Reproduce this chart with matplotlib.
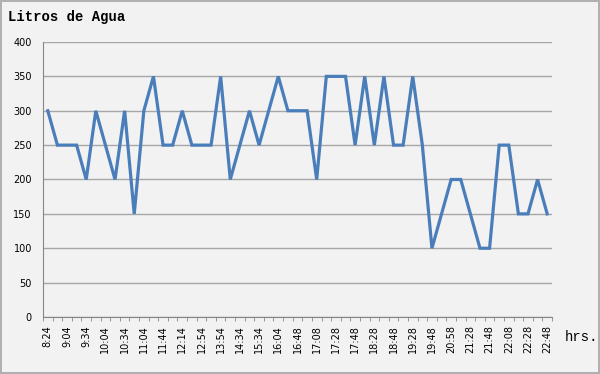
import matplotlib.pyplot as plt
import numpy as np

# litros de agua por registro (53 puntos, etiqueta cada 2)
litros = [300, 250, 250, 250, 200, 300, 250, 200, 300, 150,
          300, 350, 250, 250, 300, 250, 250, 250, 350, 200,
          250, 300, 250, 300, 350, 300, 300, 300, 200, 350,
          350, 350, 250, 350, 250, 350, 250, 250, 350, 250,
          100, 150, 200, 200, 150, 100, 100, 250, 250, 150,
          150, 200, 150]
etiquetas = ['8:24', '9:04', '9:34', '10:04', '10:34', '11:04', '11:44',
             '12:14', '12:54', '13:54', '14:34', '15:34', '16:04', '16:48',
             '17:08', '17:28', '17:48', '18:28', '18:48', '19:28', '19:48',
             '20:58', '21:28', '21:48', '22:08', '22:28', '22:48']
y_ticks = [0, 50, 100, 150, 200, 250, 300, 350, 400]

bg = '#f2f2f2'
fig = plt.figure(figsize=(6, 3.74), dpi=100, facecolor=bg,
                 edgecolor='#b0b0b0', linewidth=1.5)
ax = fig.add_axes([43/600, 1-317/374, 509/600, 275/374])
ax.set_facecolor(bg)

x = np.arange(len(litros))
ax.plot(x, litros, color='#4a7ebb', lw=2.3, solid_joinstyle='miter')

ax.set_xlim(-0.5, len(litros) - 0.5)
ax.set_ylim(0, 400)
ax.set_yticks(y_ticks)
ax.yaxis.grid(True, color='#a6a6a6', lw=1)
ax.set_axisbelow(True)
ax.tick_params(axis='y', length=0, labelsize=7, pad=8)

ax.set_xticks(x[::2])
ax.set_xticklabels(etiquetas, rotation=90, fontsize=7)
ax.set_xticks(np.arange(len(litros) + 1) - 0.5, minor=True)
ax.tick_params(axis='x', which='major', length=0, pad=6)
ax.tick_params(axis='x', which='minor', length=3, color='#868686')

for s in ['top', 'right']:
    ax.spines[s].set_visible(False)
for s in ['left', 'bottom']:
    ax.spines[s].set_color('#868686')

fig.text(8/600, 1-17/374, 'Litros de Agua', family='Liberation Mono',
         weight='bold', fontsize=10, va='center')
fig.text(565/600, 1-337/374, 'hrs.', family='Liberation Mono',
         fontsize=10, va='center')

fig.savefig('out.png', dpi=100, facecolor=bg, edgecolor='#b0b0b0')
